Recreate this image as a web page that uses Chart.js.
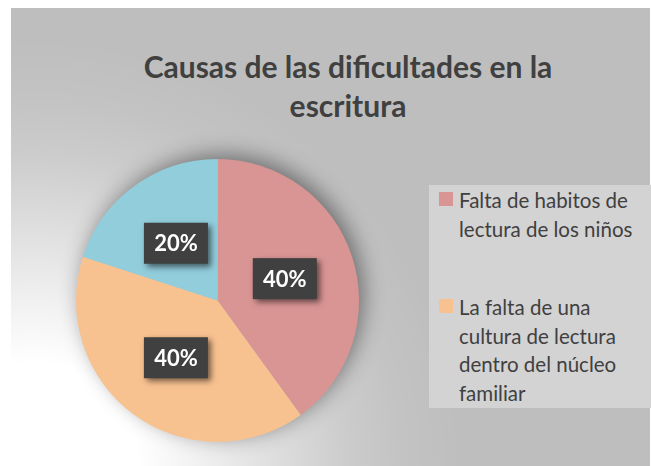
<!DOCTYPE html>
<html>
<head>
<meta charset="utf-8">
<script src="https://cdn.jsdelivr.net/npm/chart.js@4/dist/chart.umd.min.js"></script>
<style>
  html, body { margin: 0; padding: 0; background: #ffffff; }
  body { width: 651px; height: 466px; position: relative; overflow: hidden; }
  #panel {
    position: absolute; left: 11px; top: 8px; width: 639px; height: 458px;
    background:
      radial-gradient(circle 440px at 22px 460px,
        rgba(255,255,255,1) 0px, rgba(255,255,255,1) 105px,
        rgba(255,255,255,0.77) 170px, rgba(255,255,255,0.21) 315px,
        rgba(255,255,255,0.08) 370px, rgba(255,255,255,0) 430px),
      #bebebe;
  }
  #title {
    position: absolute; left: 100px; width: 496px; top: 47px;
    text-align: center; font-family: Lato, "Open Sans", sans-serif;
    font-weight: bold; font-size: 30px; line-height: 39px; color: #404040;
  }
  #legend {
    position: absolute; left: 429px; top: 185px; width: 222px; height: 223px;
    background: #d3d3d3; overflow: hidden;
    font-family: Lato, "Open Sans", sans-serif; font-size: 20.5px; line-height: 28.5px; color: #404040;
  }
  .item { position: absolute; left: 30px; width: 200px; white-space: nowrap; }
  .sw { position: absolute; left: -20px; top: 6px; width: 14px; height: 14px; }
  canvas { position: absolute; left: 0; top: 0; }
</style>
</head>
<body>
<div id="panel"></div>
<div id="title">Causas de las dificultades en la<br>escritura</div>
<div id="legend"></div>
<div style="position:absolute;left:0;top:0;width:651px;height:466px;">
  <canvas id="c" width="651" height="466"></canvas>
</div>
<script>
const categories = [
  ["Falta de habitos de", "lectura de los niños"],
  ["La falta de una", "cultura de lectura", "dentro del núcleo", "familiar"],
  []
];
const values = [40, 40, 20];
const colors = ["#d99594", "#f8c190", "#92cddc"];

// HTML legend (only labelled categories)
const legend = document.getElementById('legend');
const itemTops = [1, 108];
categories.forEach((lines, i) => {
  if (!lines.length) return;
  const d = document.createElement('div');
  d.className = 'item';
  d.style.top = itemTops[i] + 'px';
  const sw = document.createElement('span');
  sw.className = 'sw';
  sw.style.background = colors[i];
  d.appendChild(sw);
  lines.forEach((ln, k) => {
    if (k) d.appendChild(document.createElement('br'));
    d.appendChild(document.createTextNode(ln));
  });
  legend.appendChild(d);
});

const shadowPlugin = {
  id: 'pieShadow',
  beforeDatasetsDraw(chart) {
    const arc = chart.getDatasetMeta(0).data[0];
    if (!arc) return;
    const ctx = chart.ctx;
    ctx.save();
    ctx.shadowColor = 'rgba(0,0,0,0.45)';
    ctx.shadowBlur = 22;
    ctx.shadowOffsetX = 5;
    ctx.shadowOffsetY = -5;
    ctx.fillStyle = '#bebebe';
    ctx.beginPath();
    ctx.arc(arc.x, arc.y, arc.outerRadius - 1, 0, Math.PI * 2);
    ctx.fill();
    ctx.restore();
  }
};

const labelPlugin = {
  id: 'boxLabels',
  afterDatasetsDraw(chart) {
    const ctx = chart.ctx;
    const ds = chart.data.datasets[0];
    const total = ds.data.reduce((a, b) => a + b, 0);
    chart.getDatasetMeta(0).data.forEach((el, i) => {
      const p = el.tooltipPosition();
      const w = 64, h = 41;
      ctx.save();
      ctx.shadowColor = 'rgba(0,0,0,0.55)';
      ctx.shadowBlur = 6;
      ctx.shadowOffsetX = 3;
      ctx.shadowOffsetY = 3;
      ctx.fillStyle = '#404040';
      ctx.fillRect(p.x - w / 2, p.y - h / 2, w, h);
      ctx.restore();
      ctx.save();
      ctx.fillStyle = '#ffffff';
      ctx.font = 'bold 22px Lato, "Open Sans", sans-serif';
      ctx.textAlign = 'center';
      ctx.textBaseline = 'middle';
      ctx.fillText(Math.round(ds.data[i] / total * 100) + '%', p.x, p.y + 1);
      ctx.restore();
    });
  }
};

new Chart(document.getElementById('c'), {
  type: 'pie',
  data: {
    labels: categories,
    datasets: [{
      data: values,
      backgroundColor: colors,
      borderWidth: 0,
      hoverOffset: 0
    }]
  },
  options: {
    responsive: false,
    animation: false,
    layout: { padding: { left: 76, right: 292, top: 159, bottom: 24 } },
    plugins: {
      legend: { display: false },
      title: { display: false },
      tooltip: { enabled: false }
    },
    events: []
  },
  plugins: [shadowPlugin, labelPlugin]
});
</script>
</body>
</html>
